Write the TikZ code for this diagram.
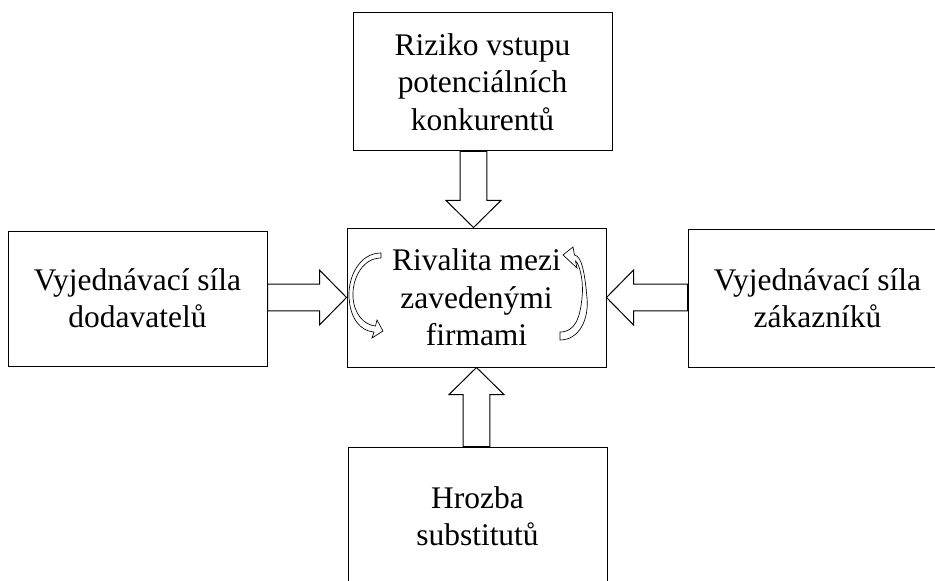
\documentclass[tikz,border=0pt]{standalone}
\usepackage{fontspec}
\setmainfont{Liberation Serif}
\usepackage{tikz}
\usetikzlibrary{calc}

\newcommand\fatarrow[2]{%
  \draw[fat] ($(#1)!10.1pt!90:(#2)$)
    -- ($($(#2)!20.25pt!(#1)$)!10.1pt!90:(#2)$)
    -- ($($(#2)!20.25pt!(#1)$)!20.6pt!90:(#2)$)
    -- (#2)
    -- ($($(#2)!20.25pt!(#1)$)!20.6pt!-90:(#2)$)
    -- ($($(#2)!20.25pt!(#1)$)!10.1pt!-90:(#2)$)
    -- ($(#1)!10.1pt!-90:(#2)$) -- cycle;}

\begin{document}
\begin{tikzpicture}[x=0.75pt,y=-0.75pt,font=\fontsize{23.6}{28}\selectfont,
  force/.style={draw,line width=0.75pt,minimum width=194.25pt,minimum height=103.5pt,inner sep=0pt,align=center},
  fat/.style={draw,line width=0.75pt,fill=white,line join=miter},
  swirl/.style={draw,line width=0.5pt,fill=white}]
  % page
  \clip (0,0) rectangle (935,581);
  % boxes
  \node[force] (risk) at (482.5,82) {Riziko vstupu\\potenciálních\\konkurentů};
  \node[force,minimum height=104.25pt] (rival) at (476.5,297.5) {Rivalita mezi\\zavedenými\\firmami};
  \node[force,minimum height=101.25pt] (supp) at (137.5,298.5) {Vyjednávací síla\\dodavatelů};
  \node[force] (cust) at (817.5,298) {Vyjednávací síla\\zákazníků};
  \node[force] (subst) at (477.5,516) {Hrozba\\substitutů};
  % block arrows
  \coordinate (topin) at ([xshift=-2.25pt]rival.north);
  \coordinate (topout) at (topin |- risk.south);
  \fatarrow{topout}{topin}
  \coordinate (botout) at (rival.south |- subst.north);
  \fatarrow{botout}{rival.south}
  \coordinate (leftout) at (supp.east |- rival.west);
  \fatarrow{leftout}{rival.west}
  \coordinate (rightout) at (cust.west |- rival.east);
  \fatarrow{rightout}{rival.east}
  % curved arrows inside rivalry box
  \draw[swirl] (381,253) .. controls (360,253) and (348,276) .. (349,297)
    .. controls (350,318) and (360,331) .. (374,332) -- (372,338) -- (383,331)
    -- (377,320) -- (375.5,326) .. controls (364,325) and (354,314) .. (353,297)
    .. controls (352,278) and (363,258) .. (381,258) -- cycle;
  \draw[swirl] (560,340) .. controls (580,340) and (589,318) .. (587,298)
    .. controls (585,275) and (582,256) .. (574.5,255) -- (573,247) -- (563,255)
    -- (577,268) -- (575.5,261) .. controls (579,263) and (584,280) .. (582,298)
    .. controls (580,318) and (575,332) .. (560,332) -- cycle;
\end{tikzpicture}
\end{document}
